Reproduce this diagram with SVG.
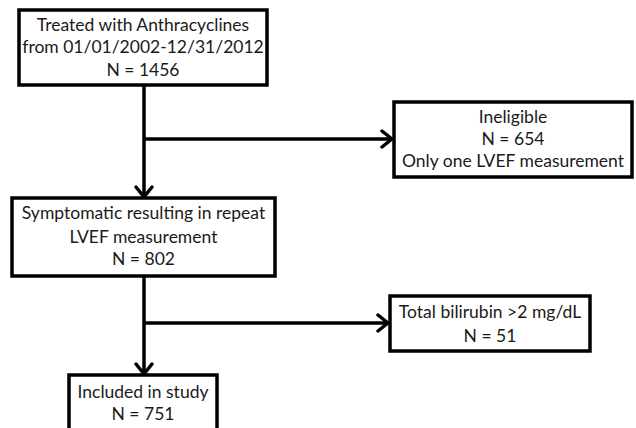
<svg xmlns="http://www.w3.org/2000/svg" width="636" height="428" viewBox="0 0 636 428">
<style>
.box{fill:#fff;stroke:#000;stroke-width:3.5}
.t{font-family:"Lato","Open Sans",sans-serif;font-size:17.5px;fill:#1a1a1a;text-anchor:middle}
.c{stroke:#000;stroke-width:3.5;fill:none}
</style>
<defs>
<marker id="ah" markerUnits="userSpaceOnUse" markerWidth="16" markerHeight="20" refX="13" refY="10" orient="auto" viewBox="0 0 16 20">
<path d="M3,2 L13,10 L3,18" fill="none" stroke="#000" stroke-width="3.5" stroke-linecap="round" stroke-linejoin="round"/>
</marker>
</defs>
<rect width="636" height="428" fill="#fff"/>
<g id="connectors">
<path class="c" d="M144,85 V197" marker-end="url(#ah)"/>
<path class="c" d="M144,139 H392" marker-end="url(#ah)"/>
<path class="c" d="M144,276 V374" marker-end="url(#ah)"/>
<path class="c" d="M144,323 H388" marker-end="url(#ah)"/>
</g>
<g id="n1">
<rect class="box" x="19" y="10" width="248" height="75"/>
<text class="t" x="143" y="31">Treated with Anthracyclines</text>
<text class="t" x="143" y="53">from 01/01/2002-12/31/2012</text>
<text class="t" x="143" y="76">N = 1456</text>
</g>
<g id="n2">
<rect class="box" x="394" y="102" width="238" height="75"/>
<text class="t" x="513" y="123">Ineligible</text>
<text class="t" x="513" y="145">N = 654</text>
<text class="t" x="513" y="167">Only one LVEF measurement</text>
</g>
<g id="n3">
<rect class="box" x="12" y="198" width="263" height="78"/>
<text class="t" x="143.5" y="219">Symptomatic resulting in repeat</text>
<text class="t" x="143.5" y="243">LVEF measurement</text>
<text class="t" x="143.5" y="265">N = 802</text>
</g>
<g id="n4">
<rect class="box" x="390" y="296" width="200" height="55"/>
<text class="t" x="490" y="318">Total bilirubin &gt;2 mg/dL</text>
<text class="t" x="490" y="342">N = 51</text>
</g>
<g id="n5">
<rect class="box" x="69" y="375" width="148" height="60"/>
<text class="t" x="143" y="398">Included in study</text>
<text class="t" x="143" y="420">N = 751</text>
</g>
</svg>
